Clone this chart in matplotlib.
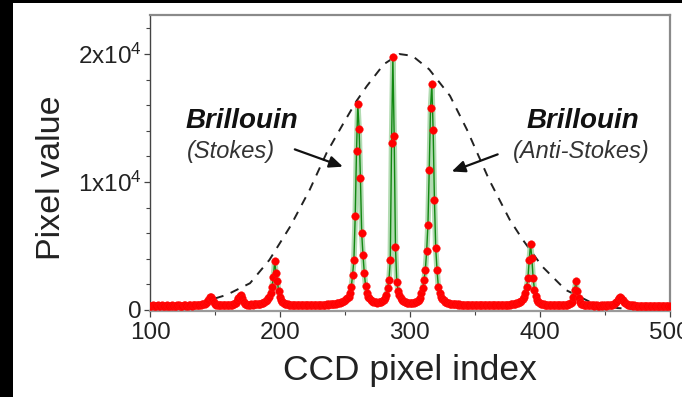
import matplotlib
matplotlib.use("Agg")
import matplotlib.pyplot as plt
from matplotlib.ticker import MultipleLocator, FixedLocator
from matplotlib.patches import Rectangle

plt.rcParams['font.family'] = ['Liberation Sans', 'DejaVu Sans']
plt.rcParams['mathtext.default'] = 'regular'

# ---- data ----
pixel_index = list(range(100, 501))
pixel_value = [
    340, 320, 350, 330, 310, 340, 360, 330, 320, 350, 340, 310, 330, 360, 340, 320, 330, 350, 340, 320,
    330, 350, 360, 340, 320, 330, 350, 370, 340, 330, 360, 350, 340, 370, 360, 380, 350, 370, 400, 420,
    430, 450, 480, 560, 650, 800, 980, 1050, 850, 620, 480, 420, 400, 380, 370, 390, 360, 380, 370, 390,
    380, 400, 390, 420, 440, 480, 560, 700, 900, 1080, 1150, 900, 650, 500, 440, 420, 400, 410, 430, 420,
    430, 450, 440, 470, 480, 500, 520, 560, 620, 700, 800, 900, 1000, 1300, 1800, 2600, 3800, 2900, 2300, 1500,
    1050, 800, 650, 560, 500, 460, 440, 420, 410, 400, 390, 380, 400, 390, 370, 380, 390, 370, 380, 390,
    380, 370, 390, 380, 370, 390, 380, 400, 390, 380, 400, 390, 410, 400, 420, 410, 430, 420, 440, 450,
    460, 470, 480, 500, 520, 540, 560, 600, 640, 700, 760, 850, 950, 1050, 1300, 1830, 2740, 3920, 7320, 12410,
    16070, 14170, 10320, 6010, 4300, 2870, 1900, 1300, 1050, 900, 800, 720, 660, 620, 600, 580, 600, 620, 650, 700,
    780, 900, 1200, 1700, 2350, 3870, 13070, 19800, 13590, 4910, 2220, 1500, 1180, 950, 800, 700, 640, 600, 580, 570,
    560, 550, 560, 570, 600, 640, 700, 800, 950, 1300, 1700, 2350, 3140, 4570, 6660, 10920, 15810, 17640, 14060, 8620,
    4830, 3140, 1830, 1300, 1000, 850, 750, 660, 600, 560, 520, 500, 480, 460, 450, 440, 430, 420, 430, 410,
    420, 400, 410, 390, 400, 410, 390, 380, 400, 390, 380, 390, 400, 380, 390, 370, 380, 390, 380, 370,
    380, 390, 370, 380, 390, 380, 370, 390, 380, 400, 390, 380, 400, 390, 410, 400, 420, 410, 430, 450,
    480, 500, 520, 560, 600, 660, 740, 850, 1000, 1300, 1830, 2500, 3920, 5170, 4050, 2500, 1600, 1100, 800, 650,
    560, 500, 460, 440, 420, 400, 390, 380, 390, 370, 380, 370, 380, 360, 370, 380, 370, 380, 390, 400,
    400, 410, 430, 460, 520, 650, 1000, 1600, 2250, 1500, 900, 620, 500, 440, 410, 390, 380, 370, 360, 370,
    350, 360, 340, 350, 360, 340, 330, 350, 340, 360, 350, 340, 360, 370, 380, 390, 410, 450, 520, 620,
    780, 920, 1000, 950, 800, 640, 520, 450, 410, 380, 360, 350, 340, 350, 330, 340, 320, 330, 340, 320,
    330, 340, 320, 310, 330, 340, 320, 330, 310, 320, 340, 330, 320, 310, 330, 320, 340, 330, 320, 310, 320,
]

envelope_x = [100, 120, 138, 159, 177, 192, 208, 223, 236, 249, 259, 267, 280, 292, 302,
              315, 331, 344, 361, 377, 387, 402, 420, 441, 460, 480, 500]
envelope_y = [130, 250, 525, 1180, 2090, 3920, 6530, 9400, 12280, 14600, 16330, 17500, 19200, 20000, 19860,
              18800, 16730, 14100, 10200, 7050, 5490, 3400, 1570, 520, 150, 30, 0]

x_ticks = [100, 200, 300, 400, 500]
y_ticks = [0, 10000, 20000]
y_tick_labels = ['0', r'$1x10^4$', r'$2x10^4$']

# ---- figure ----
fig = plt.figure(figsize=(6.82, 3.97), dpi=100)
fig.patch.set_facecolor('white')
# black frame strips of the reference image
fig.patches.append(Rectangle((0, 0), 13 / 682, 1, transform=fig.transFigure,
                             facecolor='black', edgecolor='none', zorder=0))
fig.patches.append(Rectangle((0, 1 - 2.5 / 397), 1, 2.5 / 397, transform=fig.transFigure,
                             facecolor='black', edgecolor='none', zorder=0))

ax = fig.add_axes([150 / 682, (397 - 311) / 397, (669.5 - 150) / 682, (311 - 15) / 397])

ax.plot(envelope_x, envelope_y, color='#222222', lw=1.4, dashes=(4.5, 4), zorder=2)
ax.plot(pixel_index, pixel_value, color='#9fd29f', lw=4, alpha=0.8, zorder=3,
        solid_capstyle='round')
ax.plot(pixel_index, pixel_value, color='#118811', lw=1.0, zorder=4)
ax.plot(pixel_index, pixel_value, ls='none', marker='o', ms=5.5, mfc='#ff0000',
        mec='#ff1010', mew=0.3, zorder=5)

ax.set_xlim(100, 500)
ax.set_ylim(-80, 23050)

ax.xaxis.set_major_locator(FixedLocator(x_ticks))
ax.xaxis.set_minor_locator(MultipleLocator(50))
ax.yaxis.set_major_locator(FixedLocator(y_ticks))
ax.yaxis.set_minor_locator(MultipleLocator(2000))
ax.set_yticklabels(y_tick_labels)

ax.tick_params(axis='both', which='both', direction='out', colors='#444444',
               labelcolor='#222222', labelsize=17.5)
ax.tick_params(axis='both', which='major', length=4, width=0.9, pad=2)
ax.tick_params(axis='x', which='major', pad=4)
ax.tick_params(axis='both', which='minor', length=3, width=0.8)

for side in ['top', 'right']:
    ax.spines[side].set_color('#8a8a8a')
    ax.spines[side].set_linewidth(1.6)
ax.spines['bottom'].set_color('#9a9a9a')
ax.spines['bottom'].set_linewidth(1.6)
ax.spines['left'].set_color('#444444')
ax.spines['left'].set_linewidth(1.0)

ax.set_xlabel('CCD pixel index', fontsize=25.5, color='#222222', labelpad=7)
ax.set_ylabel('Pixel value', fontsize=24.5, color='#222222', va='center')
ax.yaxis.set_label_coords(-0.19, 0.45)

# annotations
ax.text(171, 14770, 'Brillouin', fontsize=20, fontweight='bold', fontstyle='italic',
        ha='center', va='center', color='#111111')
ax.text(162.6, 12420, '(Stokes)', fontsize=17, fontstyle='italic',
        ha='center', va='center', color='#333333')
ax.text(433.6, 14770, 'Brillouin', fontsize=20, fontweight='bold', fontstyle='italic',
        ha='center', va='center', color='#111111')
ax.text(432, 12420, '(Anti-Stokes)', fontsize=17, fontstyle='italic',
        ha='center', va='center', color='#333333')

arrow_kw = dict(arrowstyle='-|>,head_length=0.8,head_width=0.35', color='#111111', lw=1.6,
                shrinkA=0, shrinkB=0)
ax.annotate('', xy=(248.5, 11200), xytext=(211.5, 12550), arrowprops=arrow_kw)
ax.annotate('', xy=(332.3, 10820), xytext=(367.7, 12160), arrowprops=arrow_kw)

fig.savefig('out.png', dpi=100, facecolor=fig.get_facecolor())
